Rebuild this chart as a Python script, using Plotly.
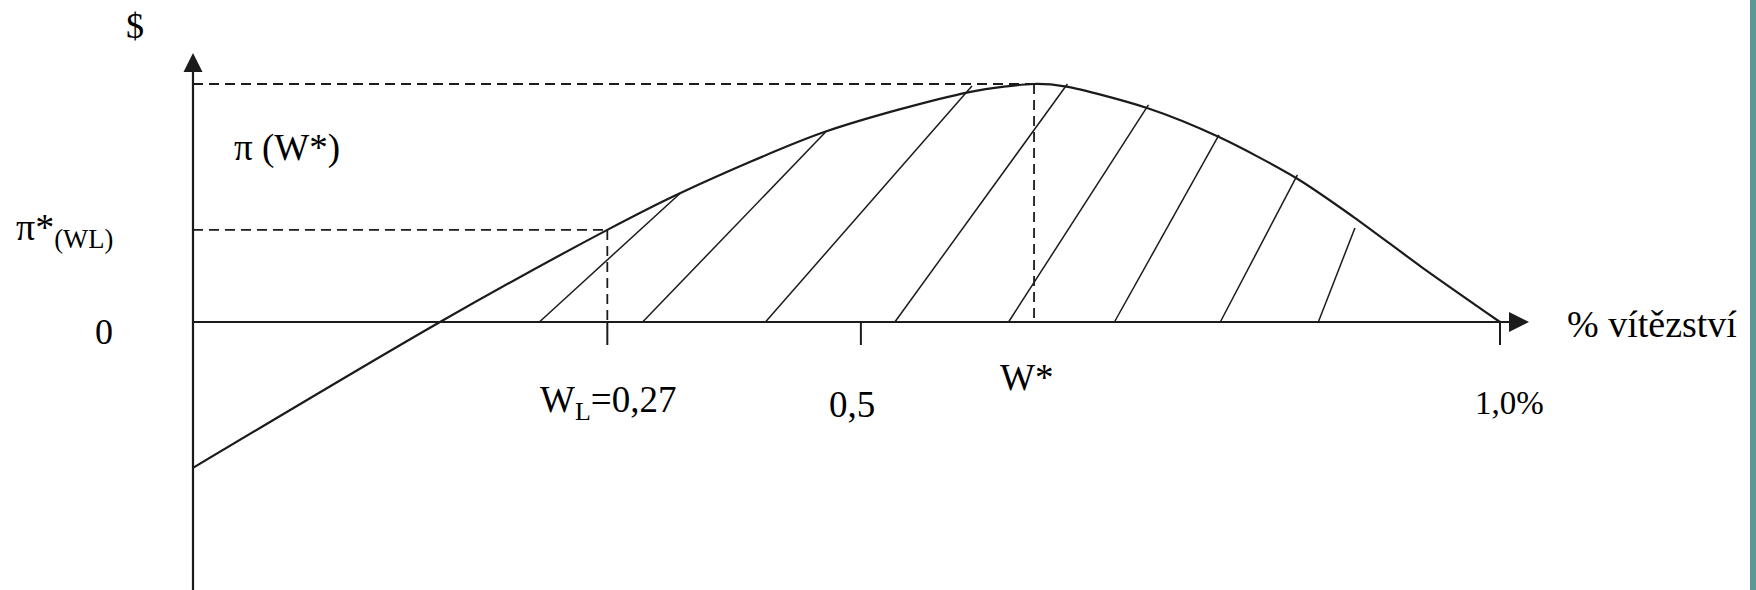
import plotly.graph_objects as go

# curve: x = share of wins (0..1 at the 1,0% tick), y = profit (peak = 1)
curve_w = [0.0, 0.189, 0.317, 0.373, 0.483, 0.594, 0.6435, 0.667, 0.730, 0.785, 0.844, 0.888, 0.940, 1.0]
curve_profit = [-0.613, 0.0, 0.387, 0.542, 0.798, 0.966, 1.0, 0.99, 0.899, 0.777, 0.605, 0.441, 0.231, 0.0]

# hatching strokes: start on the axis, end on (or near) the curve
hatch_start_w = [0.265, 0.344, 0.438, 0.537, 0.624, 0.705, 0.786, 0.861]
hatch_end_w = [0.373, 0.484, 0.596, 0.669, 0.731, 0.785, 0.845, 0.889]
hatch_end_profit = [0.542, 0.798, 0.992, 1.0, 0.912, 0.786, 0.618, 0.395]

# marked positions on the axes
w_l = 0.317
w_half = 0.511
w_star = 0.6435
w_one = 1.0
pi_star = 1.0
pi_wl = 0.387

tick_positions = [w_l, w_half, w_one]

W, H = 1756, 590
X0_PX, X1_PX = 193, 1500   # pixel of w=0 and w=1
Y0_PX, Y1_PX = 322, 84     # pixel of profit=0 and profit=1
sx = X1_PX - X0_PX
sy = Y0_PX - Y1_PX
x_range = [-X0_PX / sx, (W - X0_PX) / sx]
y_range = [(Y0_PX - H) / sy, Y0_PX / sy]

INK = "#1b1b1b"
FONT = "Liberation Serif"
DASH = "10px,6px"

fig = go.Figure()


def seg(x, y, width=2, dash=None, color=INK):
    fig.add_trace(go.Scatter(x=x, y=y, mode="lines", hoverinfo="skip",
                             line=dict(color=color, width=width, dash=dash)))


# axes with arrow heads
y_top = (Y0_PX - 53) / sy
y_bottom = y_range[0]
x_right = (1529 - X0_PX) / sx
seg([0, 0], [y_bottom, y_top - 0.03], width=2.2)
seg([0, x_right - 0.01], [0, 0], width=2.2)
fig.add_trace(go.Scatter(x=[0], y=[y_top], mode="markers", hoverinfo="skip",
                         marker=dict(symbol="arrow-up", size=19, color=INK)))
fig.add_trace(go.Scatter(x=[x_right], y=[0], mode="markers", hoverinfo="skip",
                         marker=dict(symbol="arrow-right", size=20, color=INK)))

# ticks below the axis
tick_len = 23 / sy
for t in tick_positions:
    seg([t, t], [0, -tick_len], width=2)

# dashed guides
seg([0, w_star], [pi_star, pi_star], width=1.8, dash=DASH)
seg([w_star, w_star], [pi_star, 0], width=1.8, dash=DASH)
seg([0, w_l], [pi_wl, pi_wl], width=1.8, dash=DASH)
seg([w_l, w_l], [pi_wl, 0], width=1.8, dash=DASH)

# hatching
for a, b, c in zip(hatch_start_w, hatch_end_w, hatch_end_profit):
    seg([a, b], [0, c], width=1.5)

# profit curve
fig.add_trace(go.Scatter(x=curve_w, y=curve_profit, mode="lines", hoverinfo="skip",
                         line=dict(color=INK, width=2.2, shape="spline", smoothing=0.8)))


def label(text, xpx, ypx, size=38, xanchor="center"):
    fig.add_annotation(x=xpx / W, y=1 - ypx / H, xref="paper", yref="paper",
                       text=text, showarrow=False, xanchor=xanchor, yanchor="middle",
                       font=dict(family=FONT, size=size, color="#000"))


label("$", 135, 26, size=36)
label("π (W*)", 232, 148, size=37, xanchor="left")
label("π*<sub>(WL)</sub>", 14, 230, size=38, xanchor="left")
label("0", 104, 332, size=36)
label("W<sub>L</sub>=0,27", X0_PX + w_l * sx + 1, 402, size=37)
label("0,5", X0_PX + w_half * sx - 9, 405, size=37)
label("W*", X0_PX + w_star * sx - 8, 377, size=37)
label("1,0%", X0_PX + w_one * sx + 9, 403, size=33)
label("% vítězství", 1565, 324, size=38, xanchor="left")

# teal strip at the right edge
fig.add_shape(type="rect", xref="paper", yref="paper", x0=1750 / W, x1=1, y0=0, y1=1,
              fillcolor="#5f9797", line_width=0, layer="above")

fig.update_layout(
    width=W, height=H,
    margin=dict(l=0, r=0, t=0, b=0),
    paper_bgcolor="white", plot_bgcolor="white",
    showlegend=False,
    xaxis=dict(range=x_range, visible=False, fixedrange=True),
    yaxis=dict(range=y_range, visible=False, fixedrange=True),
)

# page body has a default 8px margin that would push the figure out of the window
fig.write_html("out.html", config={"displayModeBar": False},
               post_script="document.body.style.margin='0';")
